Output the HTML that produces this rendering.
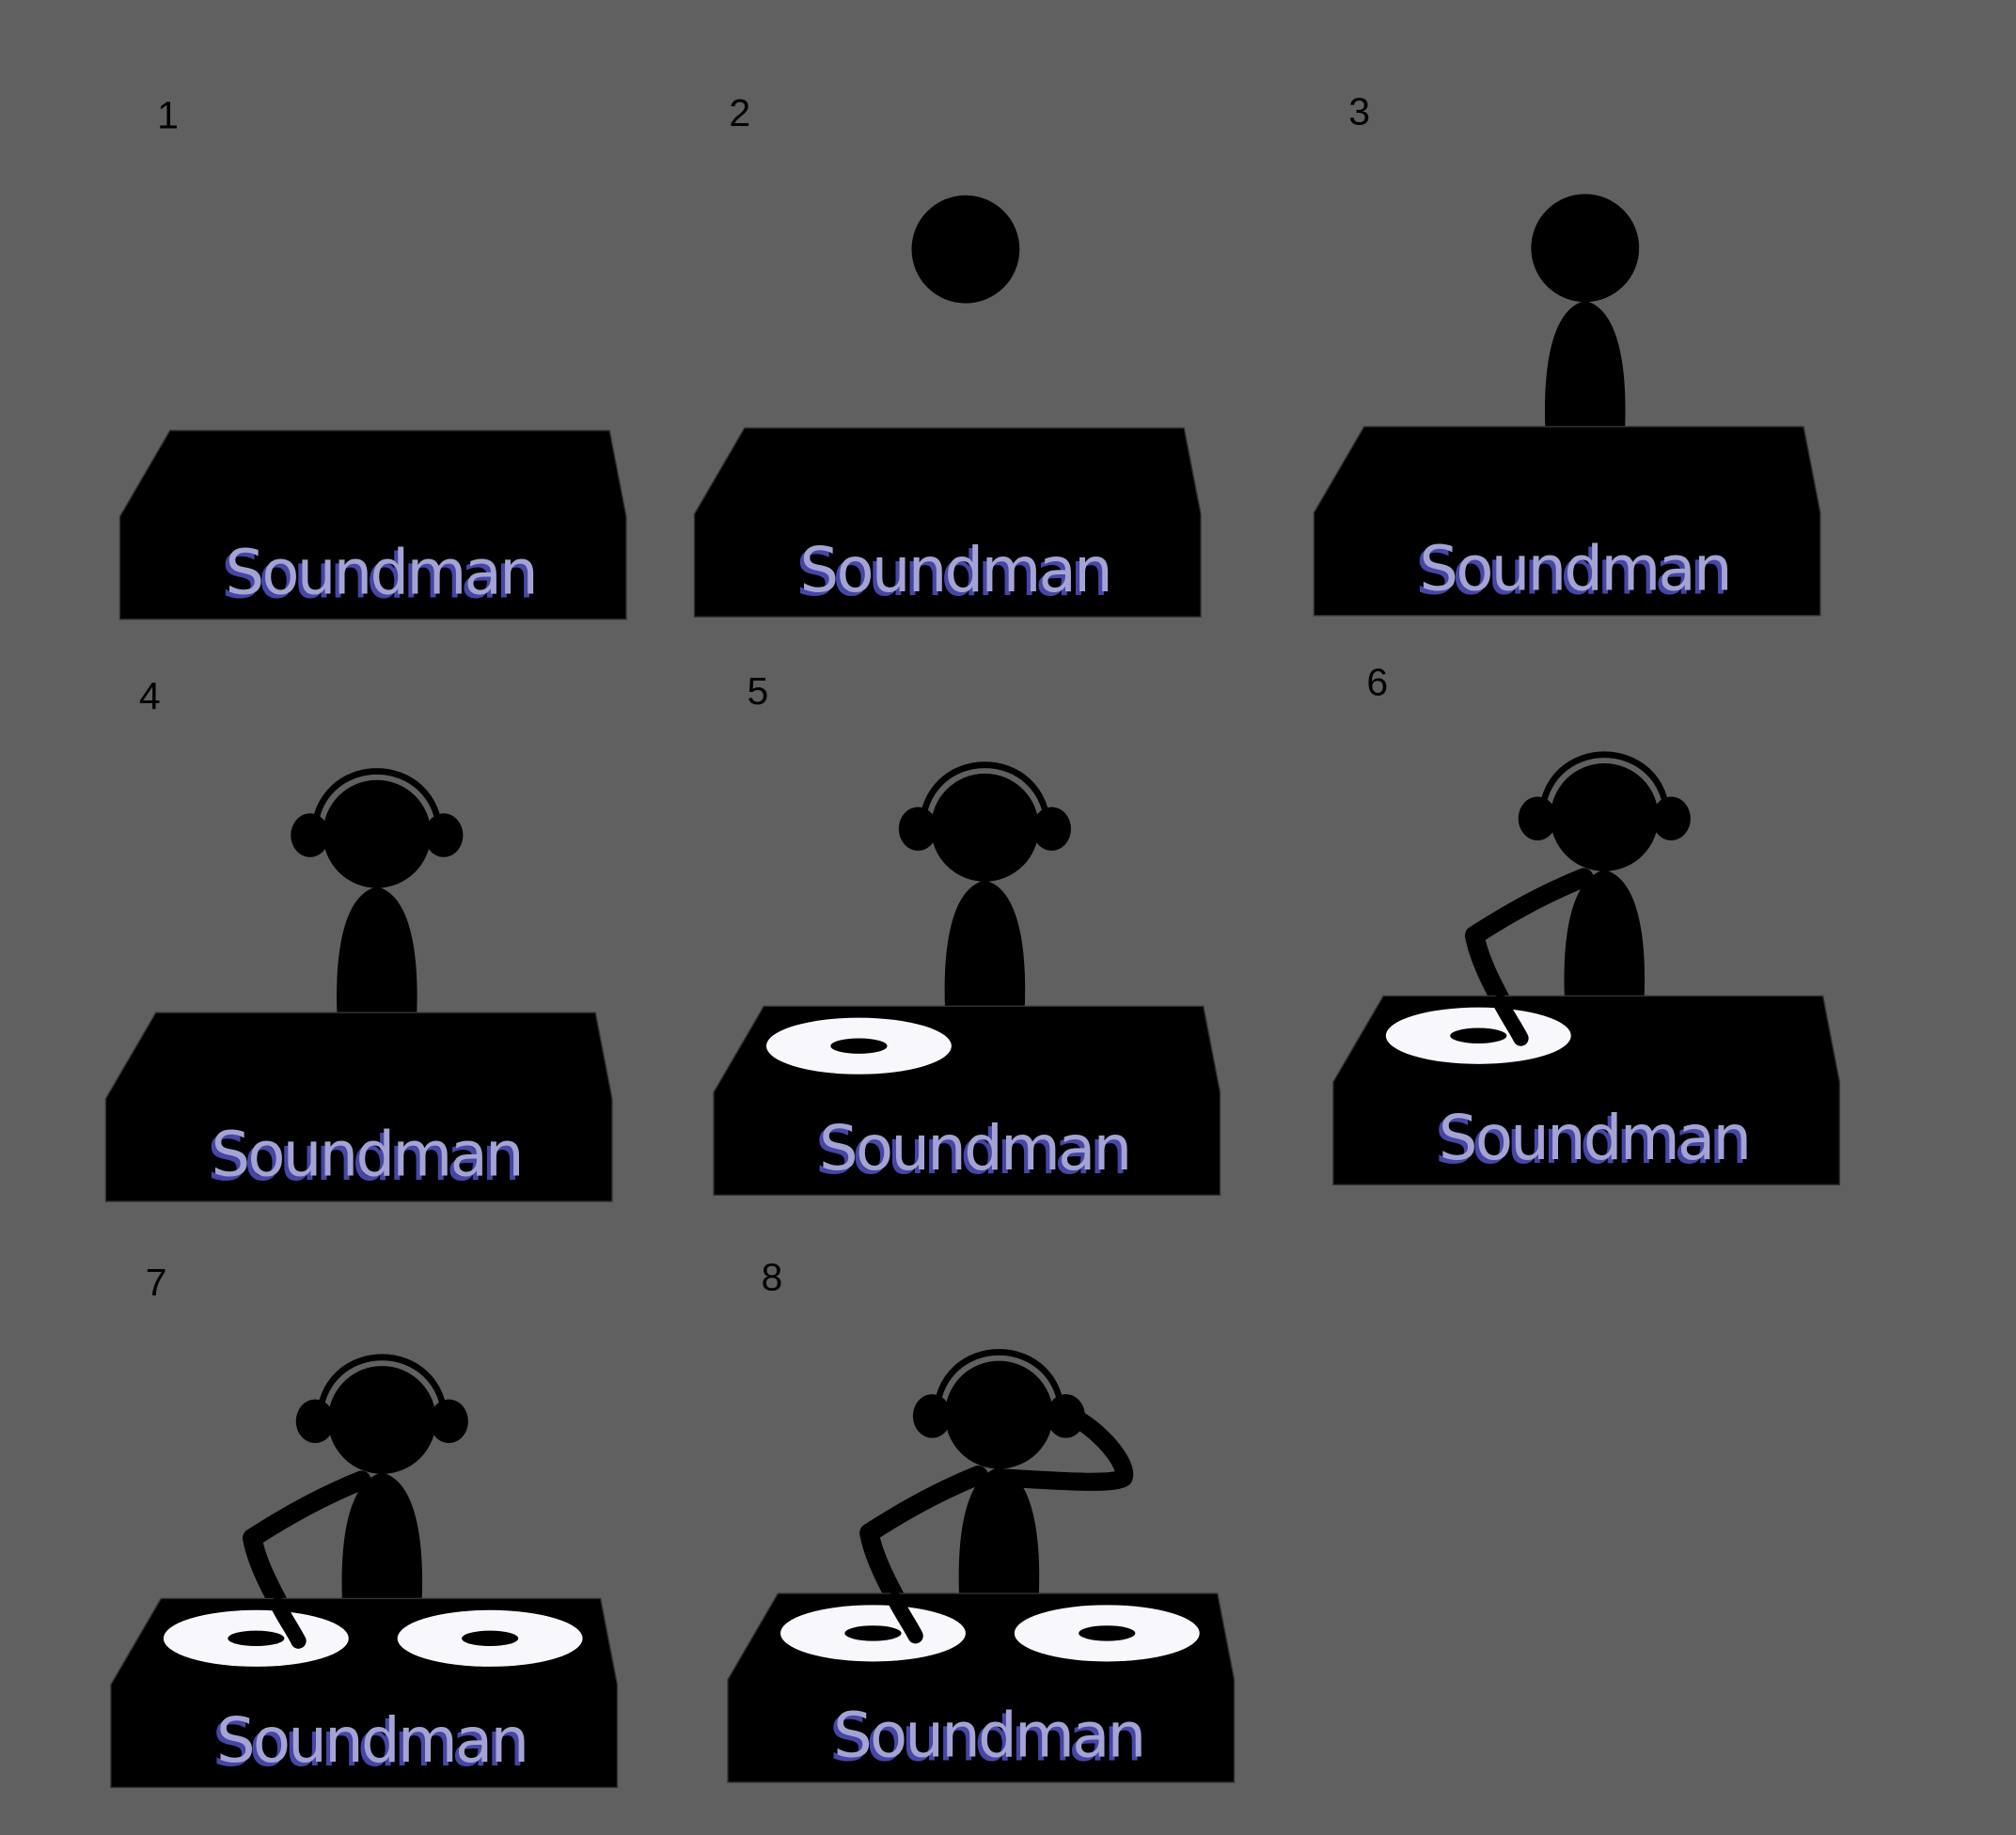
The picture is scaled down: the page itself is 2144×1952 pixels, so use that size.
<!DOCTYPE html>
<html><head><meta charset="utf-8"><style>
html,body{margin:0;padding:0;background:#606060;}
svg{display:block;}
.lbl{font-family:"Liberation Sans",sans-serif;font-size:30px;fill:#000;}
.brand{font-family:"DejaVu Sans","Liberation Sans",sans-serif;font-size:48px;letter-spacing:-2px;}
</style></head><body>
<svg id="s" width="2144" height="1952" viewBox="0 0 1568 1428" xmlns="http://www.w3.org/2000/svg">
<rect width="1568" height="1428" fill="#606060"/>
</svg>
<script>
const NS="http://www.w3.org/2000/svg";
const svg=document.getElementById('s');
const panels=[1,2,3,4,5,6,7,8];
const boothX=[93,540,1022,82,555,1037,86,566];
const boothY=[335,333,332,788,783,775,1244,1240];
const labelX=[122,567,1049,108,581,1063,113,592];
const labelY=[100,98,97,552,548,541,1008,1004];
const stage=[0,1,2,3,4,5,6,7];
function el(t,a,p){const e=document.createElementNS(NS,t);for(const k in a)e.setAttribute(k,a[k]);(p||svg).appendChild(e);return e;}
panels.forEach((n,i)=>{
  const x=boothX[i],y=boothY[i],st=stage[i];
  const g=el('g',{transform:`translate(${x},${y})`});
  
  
  const lb=el('text',{x:labelX[i]-x,y:labelY[i]-y,class:'lbl'},g);lb.textContent=String(n);
  
  
  const cx=211;
  if(st>=1){
    const h=el('circle',{cx:cx,cy:-139,r:42,fill:'#000'},g);
    
    
  }
  if(st>=2){
    const b=el('path',{d:`M${cx-31},2 C${cx-33},-50 ${cx-25},-92 ${cx},-98 C${cx+25},-92 ${cx+33},-50 ${cx+31},2 Z`,fill:'#000'},g);
    
    
  }
  if(st>=3){
    const hp=el('g',{},g);
    
    
    el('path',{d:`M${cx-49},-136 C${cx-49},-205 ${cx+49},-205 ${cx+49},-136`,fill:'none',stroke:'#000','stroke-width':5},hp);
    el('ellipse',{cx:cx-52,cy:-138,rx:15,ry:17,fill:'#000'},hp);
    el('ellipse',{cx:cx+52,cy:-138,rx:15,ry:17,fill:'#000'},hp);
  }
  if(st>=5){
    const a=el('path',{d:`M195,-92 C160,-78 130,-60 110,-47 C115,-20 135,10 146,33`,fill:'none',stroke:'#000','stroke-width':15,'stroke-linecap':'round','stroke-linejoin':'round'},g);
    
    
  }
  if(st>=7){
    const a2=el('path',{d:`M214,-90 C250,-88 300,-84 308,-90 C312,-100 290,-128 264,-140`,fill:'none',stroke:'#000','stroke-width':14,'stroke-linecap':'round','stroke-linejoin':'round'},g);
    
    
  }
  const bo=el('path',{d:'M0,67 L39,0 L381,0 L394,67 L394,147 L0,147 Z',fill:'#000',stroke:'#333','stroke-width':1},g);
  
  
  const discs=st>=6?[113,295]:(st>=4?[113]:[]);
  discs.forEach((dx,k)=>{
    const d=el('g',{},g);
    
    
    el('ellipse',{cx:dx,cy:31,rx:72,ry:22,fill:'#f8f8fc'},d);
    el('ellipse',{cx:dx,cy:31,rx:22,ry:6,fill:'#000'},d);
  });
  if(st>=5){
    const hand=el('path',{d:`M130,5 C135,15 142,25 146,33`,fill:'none',stroke:'#000','stroke-width':12,'stroke-linecap':'round'},g);
    
    
  }
  const sh=el('text',{x:79,y:130,class:'brand',fill:'#4646a6'},g);sh.textContent='Soundman';
  
  
  const t=el('text',{x:82,y:127,class:'brand',fill:'#a4a4d4'},g);t.textContent='Soundman';
  
  
});
</script>
</body></html>
